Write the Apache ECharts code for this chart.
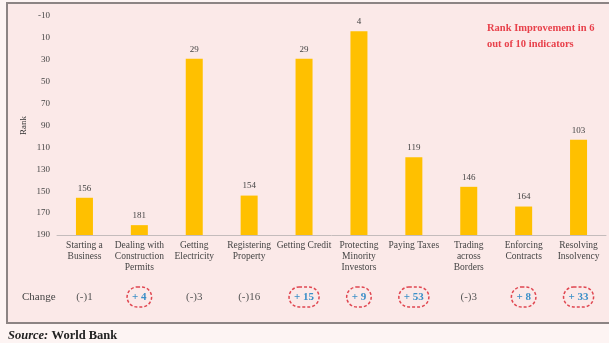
<!DOCTYPE html>
<html>
<head>
<meta charset="utf-8">
<script src="https://cdn.jsdelivr.net/npm/echarts@6/dist/echarts.min.js"></script>
<style>
html,body{margin:0;padding:0;background:#fdf4f3;}
#c{width:609px;height:343px;}
</style>
</head>
<body>
<div id="c"></div>
<script>
const categories = ['Starting a\nBusiness','Dealing with\nConstruction\nPermits','Getting\nElectricity','Registering\nProperty','Getting Credit','Protecting\nMinority\nInvestors','Paying Taxes','Trading\nacross\nBorders','Enforcing\nContracts','Resolving\nInsolvency'];
const ranks = [156, 181, 29, 154, 29, 4, 119, 146, 164, 103];
const changes = ['(-)1', '+ 4', '(-)3', '(-)16', '+ 15', '+ 9', '+ 53', '(-)3', '+ 8', '+ 33'];
const RANK_BASE = 190;   // bars rise from rank 190 (bottom of the axis)
const RANK_TOP = -10;    // top tick of the rank axis

const FONT = 'Liberation Serif';
const chart = echarts.init(document.getElementById('c'));
chart.setOption({
  backgroundColor: 'transparent',
  animation: false,
  textStyle: { fontFamily: FONT },
  graphic: [
    { type: 'rect', shape: { x: 7, y: 3, width: 640, height: 320 },
      style: { fill: '#fbe9e8', stroke: '#8c8484', lineWidth: 2 }, z: -10 },
    { type: 'text', left: 22, top: 292,
      style: { text: 'Change', font: '11px "Liberation Serif"', fill: '#444' } },
    { type: 'text', left: 8, top: 329,
      style: { text: '{i|Source:} {b|World Bank}', rich: {
        i: { fontFamily: FONT, fontSize: 12.5, fontStyle: 'italic', fontWeight: 'bold', fill: '#222' },
        b: { fontFamily: FONT, fontSize: 12.5, fontWeight: 'bold', fill: '#222' } } } },
    { type: 'text', left: 487, top: 20,
      style: { text: 'Rank Improvement in 6\nout of 10 indicators', font: 'bold 10.5px "Liberation Serif"', fill: '#e8414b', lineHeight: 16 } }
  ],
  grid: { left: 57, right: 3, top: 16, bottom: 108 },
  xAxis: [
    { type: 'category', data: categories,
      axisLine: { lineStyle: { color: '#c4bcbc', width: 1 } },
      axisTick: { show: false },
      axisLabel: { interval: 0, margin: 5, fontSize: 9.5, lineHeight: 11, color: '#444', fontFamily: FONT } },
    { type: 'category', data: changes, position: 'bottom', offset: 50,
      axisLine: { show: false }, axisTick: { show: false },
      axisLabel: { interval: 0, margin: 2,
        formatter: v => v.charAt(0) === '+' ? '{c|' + v + '}' : '{n|' + v + '}',
        rich: {
          c: { fontFamily: FONT, fontSize: 11, fontWeight: 'bold', color: '#3a8fc8',
               borderColor: '#e04650', borderWidth: 1.5, borderType: [3, 2], borderRadius: 12,
               padding: [5, 5, 4, 5] },
          n: { fontFamily: FONT, fontSize: 11, color: '#555', padding: [5, 0, 4, 0] }
        } } }
  ],
  yAxis: {
    type: 'value', min: 0, max: RANK_BASE - RANK_TOP, interval: 20,
    name: 'Rank', nameLocation: 'middle', nameGap: 29, nameRotate: 90, nameMoveOverlap: false,
    nameTextStyle: { fontFamily: FONT, fontSize: 9, color: '#333' },
    axisLine: { show: false }, axisTick: { show: false }, splitLine: { show: false },
    axisLabel: { margin: 7, fontSize: 9, color: '#444', fontFamily: FONT,
      formatter: v => String(RANK_BASE - v) }
  },
  series: [{
    type: 'bar', xAxisIndex: 0, barWidth: 17,
    data: ranks.map(r => RANK_BASE - r),
    itemStyle: { color: '#ffc000' },
    label: { show: true, position: 'top', distance: 5, fontSize: 9, color: '#444', fontFamily: FONT,
      formatter: p => String(ranks[p.dataIndex]) }
  }]
});
</script>
</body>
</html>
